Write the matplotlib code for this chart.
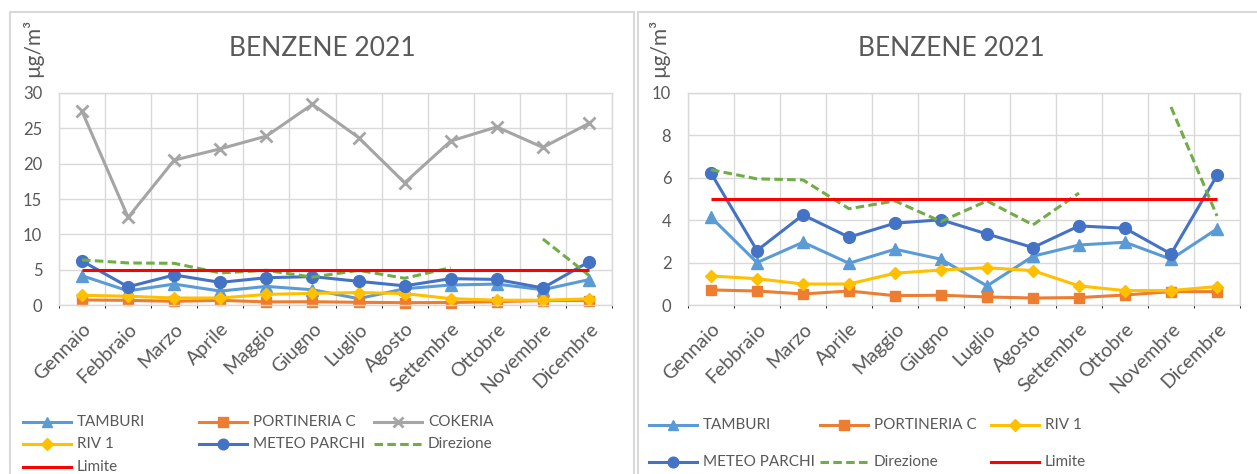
"""Benzene 2021 monthly averages by monitoring station."""

import matplotlib

matplotlib.use("Agg")
import matplotlib.pyplot as plt
from matplotlib.lines import Line2D
from matplotlib.patches import Rectangle
from matplotlib.transforms import ScaledTranslation
import numpy as np

W, H = 1257, 474

months = ["Gennaio", "Febbraio", "Marzo", "Aprile", "Maggio", "Giugno",
          "Luglio", "Agosto", "Settembre", "Ottobre", "Novembre", "Dicembre"]

tamburi = [4.14, 2.00, 2.96, 1.97, 2.63, 2.16, 0.90, 2.30, 2.83, 2.96, 2.16, 3.59]
portineria_c = [0.71, 0.66, 0.52, 0.66, 0.44, 0.46, 0.38, 0.33, 0.35, 0.47, 0.63, 0.63]
cokeria = [27.4, 12.4, 20.5, 22.1, 23.9, 28.4, 23.7, 17.3, 23.2, 25.2, 22.3, 25.7]
riv_1 = [1.37, 1.24, 0.99, 0.99, 1.50, 1.65, 1.76, 1.62, 0.90, 0.68, 0.68, 0.87]
meteo_parchi = [6.22, 2.57, 4.25, 3.20, 3.86, 4.02, 3.35, 2.71, 3.73, 3.62, 2.41, 6.11]
direzione = [6.38, 5.95, 5.90, 4.54, 4.91, 3.94, 4.91, 3.78, 5.28, None, 9.34, 4.20]
limite = [5, 5, 5, 5, 5, 5, 5, 5, 5, 5, 5, 5]

FONT = ["Lato", "DejaVu Sans"]
TEXT = "#595959"
GRID = "#D9D9D9"

# name -> (values, colour, marker, marker size, linestyle)
STYLES = {
    "TAMBURI": (tamburi, "#5B9BD5", "^", 8, "-"),
    "PORTINERIA C": (portineria_c, "#ED7D31", "s", 7.5, "-"),
    "COKERIA": (cokeria, "#A5A5A5", "x", 8, "-"),
    "RIV 1": (riv_1, "#FFC000", "D", 6.5, "-"),
    "METEO PARCHI": (meteo_parchi, "#4472C4", "o", 8.5, "-"),
    "Direzione": (direzione, "#70AD47", None, 0, (0, (2.8, 1.4))),
    "Limite": (limite, "#FF0000", None, 0, "-"),
}

plt.rcParams["font.family"] = FONT


def fx(px):
    return px / W


def fy(py):
    return 1 - py / H


def draw_panel(fig, rect, series, ymax, ystep, title_x, ylabel_x):
    ax = fig.add_axes(rect)
    x = np.arange(len(months))
    for name in series:
        vals, color, marker, ms, ls = STYLES[name]
        y = np.array([np.nan if v is None else v for v in vals], dtype=float)
        ax.plot(x, y, color=color, lw=2.2, ls=ls, marker=marker, ms=ms,
                mew=2 if marker == "x" else 1, mfc=color, mec=color,
                solid_capstyle="butt", clip_on=False)
    ax.set_xlim(-0.5, len(months) - 0.5)
    ax.set_ylim(0, ymax)
    ax.set_yticks(np.arange(0, ymax + ystep / 2, ystep))
    ax.set_xticks(x)
    ax.set_xticklabels(months, rotation=45, ha="right", rotation_mode="anchor",
                       fontsize=14)
    shift = ScaledTranslation(3 / 100, 0, fig.dpi_scale_trans)
    for lab in ax.get_xticklabels():
        lab.set_transform(lab.get_transform() + shift)
    ax.set_xticks(np.arange(-0.5, len(months)), minor=True)
    ax.tick_params(axis="both", length=0, colors=TEXT)
    ax.tick_params(axis="y", pad=12, labelsize=12)
    ax.tick_params(axis="x", pad=11)
    ax.grid(True, axis="y", color=GRID, lw=1)
    ax.grid(True, axis="x", which="minor", color=GRID, lw=1)
    ax.set_axisbelow(True)
    for sp in ax.spines.values():
        sp.set_color(GRID)
        sp.set_linewidth(1)
    fig.text(fx(title_x), fy(48), "BENZENE 2021", ha="center", va="center",
             fontsize=19, color=TEXT)
    fig.text(fx(ylabel_x), fy(77), "µg/m³", rotation=90, ha="center",
             va="bottom", fontsize=15, color=TEXT)
    return ax


def legend_entry(fig, x, y, name):
    _, color, marker, ms, ls = STYLES[name]
    fig.add_artist(Line2D([fx(x), fx(x + 48)], [fy(y), fy(y)], color=color,
                          lw=2.2, ls=ls, transform=fig.transFigure))
    if marker:
        fig.add_artist(Line2D([fx(x + 24)], [fy(y)], color=color, marker=marker,
                              ms=ms * 0.9, mew=2 if marker == "x" else 1,
                              transform=fig.transFigure))
    fig.text(fx(x + 54), fy(y), name, ha="left", va="center", fontsize=11,
             color=TEXT)


fig = plt.figure(figsize=(W / 100, H / 100), dpi=100)

# chart frames
fig.add_artist(Rectangle((fx(10), fy(490)), fx(624), fy(12) - fy(490),
                         transform=fig.transFigure, fill=False, ec=GRID, lw=1.5))
fig.add_artist(Rectangle((fx(638), fy(490)), fx(640), fy(12) - fy(490),
                         transform=fig.transFigure, fill=False, ec=GRID, lw=1.5))

left_series = ["TAMBURI", "PORTINERIA C", "COKERIA", "RIV 1", "METEO PARCHI",
               "Direzione", "Limite"]
right_series = ["TAMBURI", "PORTINERIA C", "RIV 1", "METEO PARCHI",
                "Direzione", "Limite"]

draw_panel(fig, [fx(59), fy(305), fx(553), fy(93) - fy(305)],
           left_series, 30, 5, 322, 33)
draw_panel(fig, [fx(688), fy(305), fx(552), fy(93) - fy(305)],
           right_series, 10, 2, 951, 659)

# legends
for i, name in enumerate(left_series):
    col, row = i % 3, i // 3
    legend_entry(fig, [23, 199, 374][col], [422, 444, 467][row], name)
for i, name in enumerate(right_series):
    col, row = i % 3, i // 3
    legend_entry(fig, [649, 820, 991][col], [425, 462][row], name)

fig.savefig("out.png", dpi=100)
